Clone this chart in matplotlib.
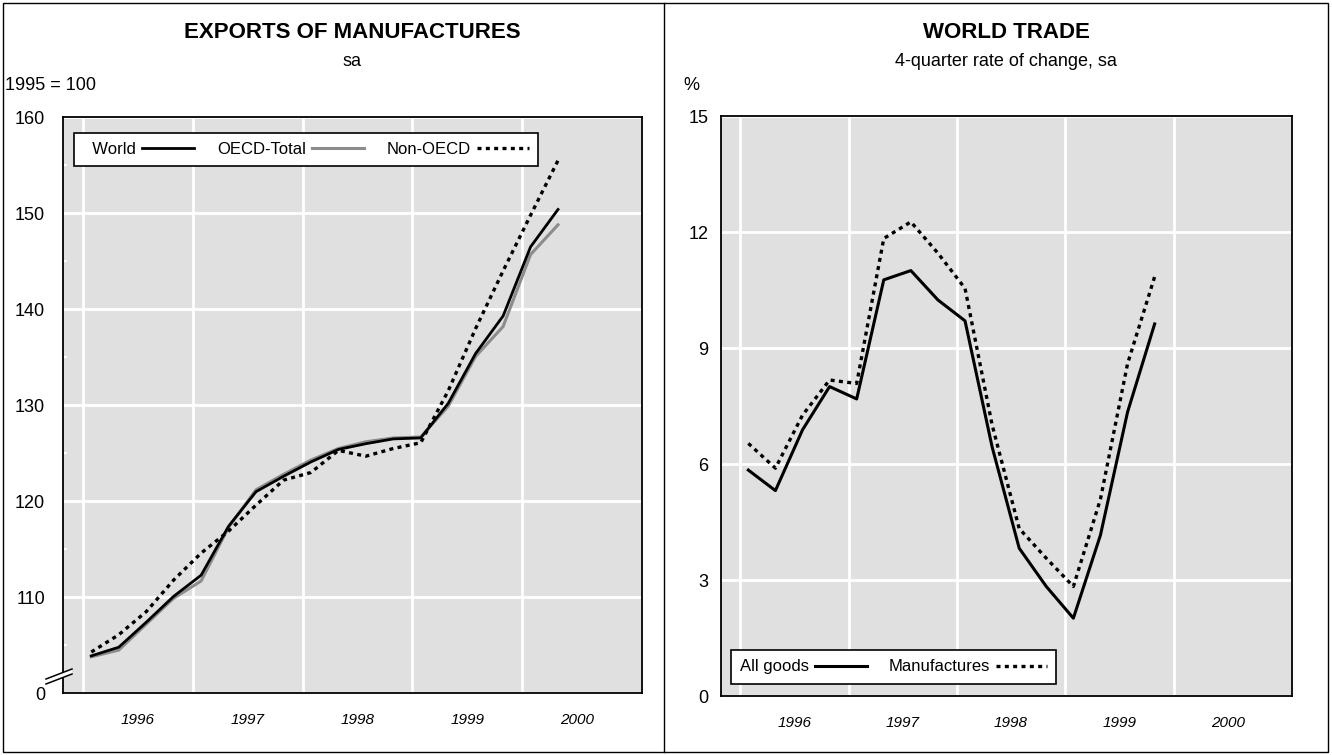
import matplotlib.pyplot as plt
from matplotlib.lines import Line2D
from matplotlib.patches import Polygon

plt.rcParams['font.family'] = ['Liberation Sans Narrow', 'Liberation Sans', 'DejaVu Sans']

# Exports of manufactures, 1995 = 100, quarterly
quarters_exp = ['1996Q1', '1996Q2', '1996Q3', '1996Q4', '1997Q1', '1997Q2', '1997Q3', '1997Q4',
                '1998Q1', '1998Q2', '1998Q3', '1998Q4', '1999Q1', '1999Q2', '1999Q3', '1999Q4',
                '2000Q1', '2000Q2']
world = [103.9, 104.8, 107.4, 110.1, 112.3, 117.4, 121.0, 122.6, 124.1, 125.4,
         126.0, 126.5, 126.6, 130.2, 135.4, 139.3, 146.5, 150.4]
oecd = [103.8, 104.5, 107.2, 109.9, 111.7, 117.3, 121.2, 122.8, 124.3, 125.5,
        126.2, 126.6, 126.7, 129.9, 135.1, 138.2, 145.7, 148.8]
non_oecd = [104.3, 106.1, 108.5, 111.8, 114.6, 116.9, 119.6, 122.2, 123.0, 125.3,
            124.7, 125.5, 126.1, 131.5, 138.0, 144.0, 149.8, 155.5]

# World trade, 4-quarter rate of change
quarters_wt = quarters_exp[:16]
all_goods = [5.85, 5.32, 6.89, 8.01, 7.69, 10.77, 11.01, 10.25, 9.71, 6.45,
             3.83, 2.84, 2.02, 4.17, 7.35, 9.63]
manufactures = [6.54, 5.90, 7.27, 8.18, 8.09, 11.84, 12.27, 11.46, 10.55, 7.02,
                4.34, 3.57, 2.84, 5.10, 8.60, 10.85]

years = [1996, 1997, 1998, 1999, 2000]
left_ticks = [100, 110, 120, 130, 140, 150, 160]
left_ticklabels = ['0', '110', '120', '130', '140', '150', '160']
right_ticks = [0, 3, 6, 9, 12, 15]


def qpos(q):
    return int(q[:4]) + (int(q[5]) - 1) * 0.25 + 0.075


W, H = 1332, 755
BG = '#e0e0e0'
fig = plt.figure(figsize=(W / 100, H / 100), dpi=100)


def px(x, y):
    return x / W, 1 - y / H


def style_axes(ax):
    ax.set_facecolor(BG)
    ax.set_xlim(1995.82, 2001.09)
    ax.set_xticks(years)
    ax.set_xticklabels([])
    ax.set_xticks([y + 0.5 for y in years], minor=True)
    ax.set_xticklabels([str(y) for y in years], minor=True, fontsize=11, style='italic')
    ax.tick_params(axis='x', which='both', length=0, pad=14)
    ax.grid(True, which='major', color='white', lw=2)
    ax.set_axisbelow(True)
    for s in ax.spines.values():
        s.set_linewidth(1.3)
        s.set_color('black')


leg_kw = dict(markerfirst=False, fontsize=12, handlelength=3.1, handletextpad=0.35,
              fancybox=False, framealpha=1, edgecolor='black',
              borderpad=0.55, borderaxespad=0)

# ---- left panel
ax1 = fig.add_axes([63.3 / W, 1 - 693.3 / H, 578.7 / W, 576 / H])
style_axes(ax1)
ax1.set_ylim(100, 160)
ax1.set_yticks(left_ticks)
ax1.set_yticklabels(left_ticklabels, fontsize=13)
ax1.set_yticks([105, 115, 125, 135, 145, 155], minor=True)
ax1.tick_params(axis='y', which='major', length=0, pad=13)
ax1.tick_params(axis='y', which='minor', direction='in', color='white', length=3, width=1.5)

x_exp = [qpos(q) for q in quarters_exp]
ax1.plot(x_exp, oecd, color='#8c8c8c', lw=2.2, label='OECD-Total', zorder=3)
ax1.plot(x_exp, world, color='black', lw=2.0, label='  World', zorder=4)
ax1.plot(x_exp, non_oecd, color='black', lw=2.4, dashes=(1.2, 1.3), label='Non-OECD', zorder=5)

h, l = ax1.get_legend_handles_labels()
order = [1, 0, 2]
leg1 = ax1.legend([h[i] for i in order], [l[i] for i in order], ncol=3, columnspacing=1.4,
                  loc='upper left', bbox_to_anchor=(0.019, 0.973), **leg_kw)
leg1.get_frame().set_linewidth(1.2)

# axis break marks
x0, x1 = 46, 72
poly = Polygon([px(x0, 679), px(x1, 669), px(x1, 674), px(x0, 684)], closed=True,
               facecolor='white', edgecolor='none', transform=fig.transFigure, zorder=10)
fig.add_artist(poly)
for yy in (679, 684):
    fig.add_artist(Line2D([px(x0, yy)[0], px(x1, yy - 10)[0]], [px(x0, yy)[1], px(x1, yy - 10)[1]],
                          color='black', lw=1.1, transform=fig.transFigure, zorder=11))

# ---- right panel
ax2 = fig.add_axes([720.7 / W, 1 - 696.3 / H, 571 / W, 580 / H])
style_axes(ax2)
ax2.set_ylim(0, 15)
ax2.set_yticks(right_ticks)
ax2.set_yticklabels([str(t) for t in right_ticks], fontsize=13)
ax2.tick_params(axis='y', length=0, pad=9)

x_wt = [qpos(q) for q in quarters_wt]
ax2.plot(x_wt, all_goods, color='black', lw=2.2, label='All goods', zorder=4)
ax2.plot(x_wt, manufactures, color='black', lw=2.4, dashes=(1.2, 1.3), label='Manufactures', zorder=5)
leg2 = ax2.legend(ncol=2, columnspacing=1.3, loc='lower left', bbox_to_anchor=(0.018, 0.022),
                  **leg_kw)
leg2.get_frame().set_linewidth(1.2)

# ---- titles and units
fig.text(*px(352, 33), 'EXPORTS OF MANUFACTURES', ha='center', va='center',
         fontsize=16, fontweight='bold')
fig.text(*px(352, 62), 'sa', ha='center', va='center', fontsize=13)
fig.text(*px(5, 86), '1995 = 100', ha='left', va='center', fontsize=13)
fig.text(*px(1006, 33), 'WORLD TRADE', ha='center', va='center', fontsize=16, fontweight='bold')
fig.text(*px(1006, 62), '4-quarter rate of change, sa', ha='center', va='center', fontsize=13)
fig.text(*px(683, 86), '%', ha='left', va='center', fontsize=13)

# outer frame and divider between panels
fig.add_artist(Polygon([px(3, 3), px(1328, 3), px(1328, 752), px(3, 752)], closed=True,
                       fill=False, edgecolor='black', lw=1.0, transform=fig.transFigure))
fig.add_artist(Line2D([664 / W, 664 / W], [px(0, 3)[1], px(0, 752)[1]], color='black', lw=1.0,
                      transform=fig.transFigure))

fig.savefig('out.png', dpi=100)
